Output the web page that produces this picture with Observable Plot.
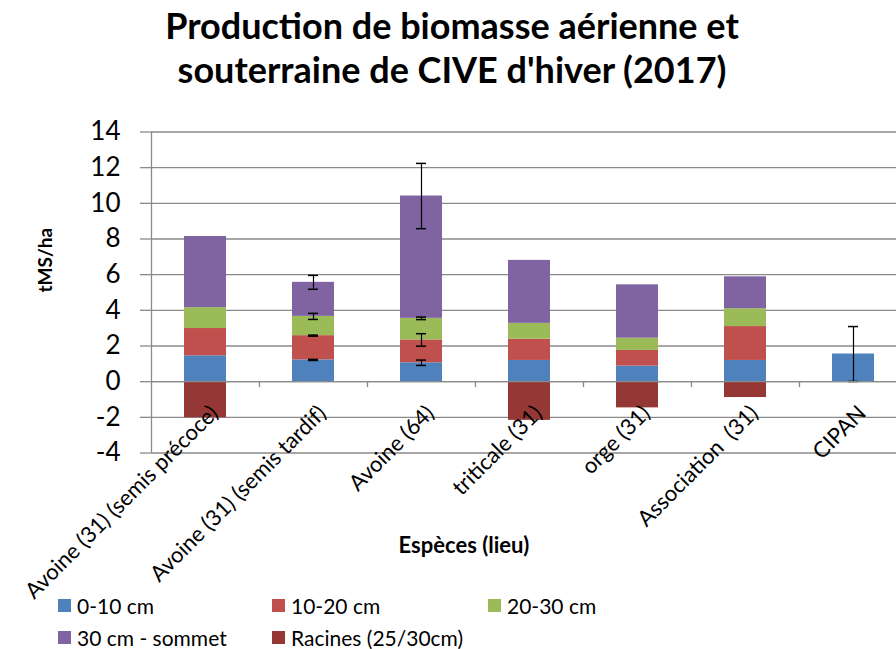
<!DOCTYPE html>
<html><head><meta charset="utf-8">
<script src="https://cdn.jsdelivr.net/npm/d3@7"></script>
<script src="https://cdn.jsdelivr.net/npm/@observablehq/plot@0.6"></script>
<style>
body{margin:0;background:#fff;font-family:Lato,sans-serif;}
#wrap{position:relative;width:896px;height:649px;overflow:hidden;background:#fff;}
#title{height:110px;text-align:center;font-weight:bold;font-size:36px;line-height:44px;padding-top:3px;padding-left:8px;box-sizing:border-box;color:#000;}
#legend{position:absolute;left:0;top:0;width:896px;height:649px;pointer-events:none;font-size:21px;color:#000;}
.item{position:absolute;display:flex;align-items:center;white-space:nowrap;height:20px;}
.sw{width:13px;height:13px;margin-right:6px;}
</style></head><body>
<div id="wrap">
<div id="title">Production de biomasse aérienne et<br>souterraine de CIVE d'hiver (2017)</div>
<div id="chart"></div>
<div id="legend"></div>
</div>
<script>
const categories = ["Avoine (31) (semis précoce)", "Avoine (31) (semis tardif)", "Avoine (64)", "triticale (31)", "orge (31)", "Association  (31)", "CIPAN"];
const series = ["0-10 cm", "10-20 cm", "20-30 cm", "30 cm - sommet", "Racines (25/30cm)"];
const colors = ["#4F81BD", "#C0504D", "#9BBB59", "#8064A2", "#953735"];

const v0_10     = [1.45, 1.22, 1.06, 1.19, 0.87, 1.19, 1.55];
const v10_20    = [1.53, 1.36, 1.28, 1.19, 0.88, 1.90, 0];
const v20_30    = [1.17, 1.08, 1.21, 0.89, 0.69, 1.00, 0];
const v30_top   = [3.99, 1.91, 6.86, 3.53, 2.99, 1.79, 0];
const racines   = [-2.02, 0, 0, -2.17, -1.47, -0.89, 0];

const err0_10   = [0, 0.03, 0.15, 0, 0, 0, 1.54];
const err10_20  = [0, 0.03, 0.35, 0, 0, 0, 0];
const err20_30  = [0, 0.17, 0.07, 0, 0, 0, 0];
const err30_top = [0, 0.39, 1.83, 0, 0, 0, 0];

const yTicks = [-4, -2, 0, 2, 4, 6, 8, 10, 12, 14];
const yLabel = "tMS/ha";
const xLabel = "Espèces (lieu)";

const valueArrays = [v0_10, v10_20, v20_30, v30_top, racines];
const errArrays = [err0_10, err10_20, err20_30, err30_top];

const data = [];
categories.forEach((c, i) => series.forEach((s, k) => data.push({cat: c, series: s, value: valueArrays[k][i]})));

const errData = [];
categories.forEach((c, i) => {
  let cum = 0;
  errArrays.forEach((arr, k) => {
    cum += valueArrays[k][i];
    if (arr[i] > 0) errData.push({cat: c, top: cum, err: arr[i]});
  });
});

const grid = "#8a8a8a";
const step = (907 - 151) / categories.length;

const chart = Plot.plot({
  width: 896, height: 539,
  marginLeft: 151, marginRight: 0, marginTop: 21.5, marginBottom: 196.5,
  style: {fontFamily: "Lato, sans-serif", overflow: "visible", background: "transparent", color: "#000"},
  x: {type: "band", domain: categories, range: [151, 907], padding: 0, axis: null},
  y: {domain: [-4, 14], axis: null},
  color: {domain: series, range: colors},
  marks: [
    Plot.gridY(yTicks, {stroke: grid, strokeOpacity: 1, strokeWidth: 1.3}),
    Plot.axisY(yTicks, {tickSize: 11, tickPadding: 20, fontSize: 26, stroke: grid, strokeOpacity: 1, strokeWidth: 1.3, tickFormat: d => String(d), label: null}),
    Plot.ruleX([categories[0]], {x: d => d, dx: -step / 2, stroke: grid, strokeWidth: 1.3}),
    Plot.ruleX(categories.slice(1), {x: d => d, y1: () => 0, y2: () => 0, insetBottom: -6, dx: -step / 2, stroke: grid, strokeWidth: 1.3}),
    Plot.barY(data, {x: "cat", y: "value", fill: "series", insetLeft: 33, insetRight: 33}),
    Plot.ruleX(errData, {x: "cat", y1: d => d.top - d.err, y2: d => d.top + d.err, stroke: "#000", strokeWidth: 1.2}),
    Plot.tickY(errData, {x: "cat", y: d => d.top + d.err, insetLeft: 49, insetRight: 49, stroke: "#000", strokeWidth: 1.5}),
    Plot.tickY(errData, {x: "cat", y: d => d.top - d.err, insetLeft: 49, insetRight: 49, stroke: "#000", strokeWidth: 1.5}),
    Plot.ruleY([0], {stroke: grid, strokeWidth: 1.3}),
    Plot.text(categories, {x: d => d, y: () => 0, text: d => d, rotate: -45, textAnchor: "end", lineAnchor: "middle", fontSize: 22, dx: 9, dy: 28, fill: "#000"}),
    Plot.text([yLabel], {frameAnchor: "left", text: d => d, rotate: -90, dx: -106, fontSize: 19, fontWeight: "bold", fill: "#000"}),
    Plot.text([xLabel], {frameAnchor: "bottom", text: d => d, dx: -60, dy: 100, fontSize: 22, fontWeight: "bold", fill: "#000"})
  ]
});
document.getElementById("chart").appendChild(chart);

const legendPos = [[58, 595], [272, 595], [488, 595], [58, 627], [272, 627]];
const legend = document.getElementById("legend");
series.forEach((s, k) => {
  const it = document.createElement("div");
  it.className = "item";
  it.style.left = legendPos[k][0] + "px";
  it.style.top = legendPos[k][1] + "px";
  it.innerHTML = `<span class="sw" style="background:${colors[k]}"></span><span>${s}</span>`;
  legend.appendChild(it);
});
</script>
</body></html>
